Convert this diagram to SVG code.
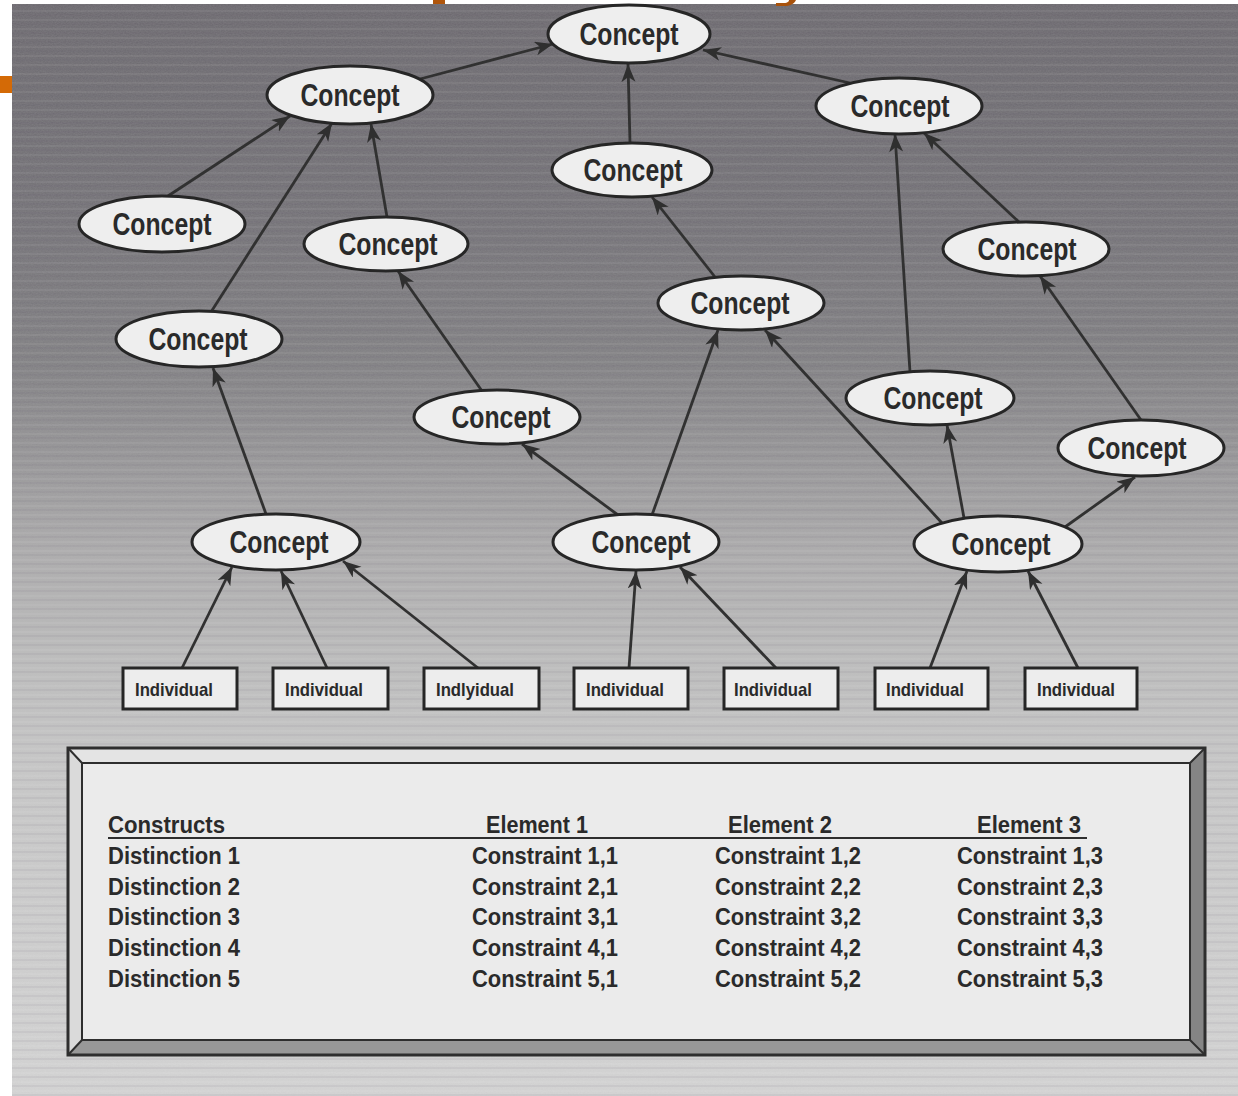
<svg xmlns="http://www.w3.org/2000/svg" width="1238" height="1096" viewBox="0 0 1238 1096">
  <defs>
    <linearGradient id="paper" x1="0" y1="0" x2="0" y2="1">
      <stop offset="0" stop-color="#6b686e"/>
      <stop offset="0.2" stop-color="#737176"/>
      <stop offset="0.33" stop-color="#807f82"/>
      <stop offset="0.42" stop-color="#979698"/>
      <stop offset="0.5" stop-color="#acabac"/>
      <stop offset="0.6" stop-color="#bdbdbd"/>
      <stop offset="0.7" stop-color="#c8c8c8"/>
      <stop offset="1" stop-color="#d5d5d5"/>
    </linearGradient>
    <pattern id="scanlines" width="40" height="9" patternUnits="userSpaceOnUse">
      <rect x="0" y="1" width="40" height="2" fill="#ffffff" opacity="0.06"/>
      <rect x="0" y="5" width="40" height="2" fill="#5a4a66" opacity="0.08"/>
    </pattern>
    <filter id="grain" x="0" y="0" width="100%" height="100%">
      <feTurbulence type="fractalNoise" baseFrequency="0.6 0.9" numOctaves="2" seed="3"/>
      <feColorMatrix type="matrix" values="0 0 0 0 0.5  0 0 0 0 0.5  0 0 0 0 0.5  0 0 0 0.2 0"/>
    </filter>
    <marker id="arrow" markerUnits="userSpaceOnUse" markerWidth="20" markerHeight="16" refX="18" refY="7" orient="auto">
      <path d="M0,0 L18,7 L0,14 L5,7 z" fill="#2f2f2f"/>
    </marker>
    <style>
      .node ellipse { fill: #eeeeee; stroke: #262626; stroke-width: 3; }
      .node rect { fill: #ededed; stroke: #262626; stroke-width: 3; }
      .clabel { font-family: "Liberation Sans", Arial, sans-serif; font-weight: bold; font-size: 31px; fill: #2a2a2a; text-anchor: middle; }
      .ilabel { font-family: "Liberation Sans", Arial, sans-serif; font-weight: bold; font-size: 19px; fill: #2a2a2a; text-anchor: middle; }
      .edges line { stroke: #313131; stroke-width: 2.8; marker-end: url(#arrow); }
      .tbl { font-family: "Liberation Sans", Arial, sans-serif; font-weight: bold; font-size: 23px; fill: #2a2a2a; }
    </style>
  </defs>

  <!-- page margin and scanned sheet -->
  <rect x="0" y="0" width="1238" height="1096" fill="#ffffff"/>
  <rect x="12" y="4" width="1226" height="1092" fill="url(#paper)"/>
  <rect x="12" y="4" width="1226" height="1092" fill="url(#scanlines)"/>
  <rect x="12" y="4" width="1226" height="1092" filter="url(#grain)"/>

  <!-- orange bits of the slide header -->
  <rect x="0" y="76" width="12" height="17" fill="#d46a06"/>
  <rect x="433" y="0" width="12" height="4" fill="#b0560c"/>
  <path d="M772,0 L796,0 C794,4 790,6 784,6 L776,6 L776,3 L784,3 C788,3 789,1 789,0 Z" fill="#a8520c"/>

  <!-- connectors -->
  <g id="connectors" class="edges">
    <line x1="420" y1="79" x2="553" y2="44"/>
    <line x1="850" y1="83" x2="703" y2="50"/>
    <line x1="630" y1="143" x2="628" y2="64"/>
    <line x1="168" y1="196" x2="290" y2="116"/>
    <line x1="211" y1="312" x2="332" y2="123"/>
    <line x1="387" y1="217" x2="371" y2="124"/>
    <line x1="482" y1="391" x2="398" y2="271"/>
    <line x1="266" y1="514" x2="213" y2="368"/>
    <line x1="618" y1="515" x2="522" y2="444"/>
    <line x1="652" y1="515" x2="718" y2="330"/>
    <line x1="715" y1="277" x2="652" y2="197"/>
    <line x1="942" y1="523" x2="765" y2="330"/>
    <line x1="964" y1="518" x2="947" y2="425"/>
    <line x1="1065" y1="527" x2="1135" y2="477"/>
    <line x1="910" y1="372" x2="895" y2="134"/>
    <line x1="1141" y1="420" x2="1040" y2="276"/>
    <line x1="1019" y1="222" x2="924" y2="133"/>
    <line x1="182" y1="668" x2="232" y2="567"/>
    <line x1="327" y1="668" x2="281" y2="571"/>
    <line x1="478" y1="668" x2="343" y2="561"/>
    <line x1="629" y1="668" x2="636" y2="571"/>
    <line x1="776" y1="668" x2="680" y2="567"/>
    <line x1="930" y1="668" x2="967" y2="571"/>
    <line x1="1078" y1="668" x2="1028" y2="571"/>
  </g>

  <!-- concept nodes -->
  <g id="concept-1" class="node"><ellipse cx="629" cy="34" rx="81" ry="29"/><text class="clabel" x="629" y="45" textLength="99" lengthAdjust="spacingAndGlyphs">Concept</text></g>
  <g id="concept-2" class="node"><ellipse cx="350" cy="95" rx="83" ry="29"/><text class="clabel" x="350" y="106" textLength="99" lengthAdjust="spacingAndGlyphs">Concept</text></g>
  <g id="concept-3" class="node"><ellipse cx="899" cy="106" rx="83" ry="28"/><text class="clabel" x="900" y="117" textLength="99" lengthAdjust="spacingAndGlyphs">Concept</text></g>
  <g id="concept-4" class="node"><ellipse cx="162" cy="224" rx="83" ry="28"/><text class="clabel" x="162" y="235" textLength="99" lengthAdjust="spacingAndGlyphs">Concept</text></g>
  <g id="concept-5" class="node"><ellipse cx="386" cy="244" rx="82" ry="27"/><text class="clabel" x="388" y="255" textLength="99" lengthAdjust="spacingAndGlyphs">Concept</text></g>
  <g id="concept-6" class="node"><ellipse cx="632" cy="170" rx="80" ry="27"/><text class="clabel" x="633" y="181" textLength="99" lengthAdjust="spacingAndGlyphs">Concept</text></g>
  <g id="concept-7" class="node"><ellipse cx="741" cy="303" rx="83" ry="27"/><text class="clabel" x="740" y="314" textLength="99" lengthAdjust="spacingAndGlyphs">Concept</text></g>
  <g id="concept-8" class="node"><ellipse cx="1026" cy="249" rx="83" ry="27"/><text class="clabel" x="1027" y="260" textLength="99" lengthAdjust="spacingAndGlyphs">Concept</text></g>
  <g id="concept-9" class="node"><ellipse cx="199" cy="339" rx="83" ry="28"/><text class="clabel" x="198" y="350" textLength="99" lengthAdjust="spacingAndGlyphs">Concept</text></g>
  <g id="concept-10" class="node"><ellipse cx="497" cy="417" rx="83" ry="27"/><text class="clabel" x="501" y="428" textLength="99" lengthAdjust="spacingAndGlyphs">Concept</text></g>
  <g id="concept-11" class="node"><ellipse cx="930" cy="398" rx="84" ry="27"/><text class="clabel" x="933" y="409" textLength="99" lengthAdjust="spacingAndGlyphs">Concept</text></g>
  <g id="concept-12" class="node"><ellipse cx="1141" cy="448" rx="83" ry="28"/><text class="clabel" x="1137" y="459" textLength="99" lengthAdjust="spacingAndGlyphs">Concept</text></g>
  <g id="concept-13" class="node"><ellipse cx="276" cy="542" rx="84" ry="28"/><text class="clabel" x="279" y="553" textLength="99" lengthAdjust="spacingAndGlyphs">Concept</text></g>
  <g id="concept-14" class="node"><ellipse cx="636" cy="542" rx="83" ry="28"/><text class="clabel" x="641" y="553" textLength="99" lengthAdjust="spacingAndGlyphs">Concept</text></g>
  <g id="concept-15" class="node"><ellipse cx="998" cy="544" rx="84" ry="28"/><text class="clabel" x="1001" y="555" textLength="99" lengthAdjust="spacingAndGlyphs">Concept</text></g>

  <!-- individual nodes -->
  <g id="individual-1" class="node"><rect x="123" y="668" width="114" height="41"/><text class="ilabel" x="174" y="696" textLength="78" lengthAdjust="spacingAndGlyphs">Individual</text></g>
  <g id="individual-2" class="node"><rect x="273" y="668" width="115" height="41"/><text class="ilabel" x="324" y="696" textLength="78" lengthAdjust="spacingAndGlyphs">Individual</text></g>
  <g id="individual-3" class="node"><rect x="424" y="668" width="115" height="41"/><text class="ilabel" x="475" y="696" textLength="78" lengthAdjust="spacingAndGlyphs">Indlyidual</text></g>
  <g id="individual-4" class="node"><rect x="574" y="668" width="114" height="41"/><text class="ilabel" x="625" y="696" textLength="78" lengthAdjust="spacingAndGlyphs">Individual</text></g>
  <g id="individual-5" class="node"><rect x="724" y="668" width="114" height="41"/><text class="ilabel" x="773" y="696" textLength="78" lengthAdjust="spacingAndGlyphs">Individual</text></g>
  <g id="individual-6" class="node"><rect x="875" y="668" width="113" height="41"/><text class="ilabel" x="925" y="696" textLength="78" lengthAdjust="spacingAndGlyphs">Individual</text></g>
  <g id="individual-7" class="node"><rect x="1025" y="668" width="112" height="41"/><text class="ilabel" x="1076" y="696" textLength="78" lengthAdjust="spacingAndGlyphs">Individual</text></g>

  <!-- repertory grid panel with bevelled frame -->
  <g id="grid-table">
    <polygon points="68,748 1205,748 1190,763 82,763" fill="#e4e4e4"/>
    <polygon points="68,748 82,763 82,1040 68,1055" fill="#dadada"/>
    <polygon points="1205,748 1205,1055 1190,1040 1190,763" fill="#858585"/>
    <polygon points="68,1055 1205,1055 1190,1040 82,1040" fill="#989898"/>
    <rect x="82" y="763" width="1108" height="277" fill="#ebebeb" stroke="#2e2e2e" stroke-width="2"/>
    <rect x="68" y="748" width="1137" height="307" fill="none" stroke="#2e2e2e" stroke-width="3"/>
    <g stroke="#2e2e2e" stroke-width="2">
      <line x1="68" y1="748" x2="82" y2="763"/>
      <line x1="1205" y1="748" x2="1190" y2="763"/>
      <line x1="68" y1="1055" x2="82" y2="1040"/>
      <line x1="1205" y1="1055" x2="1190" y2="1040"/>
    </g>
    <line x1="108" y1="838" x2="1087" y2="838" stroke="#2e2e2e" stroke-width="2"/>
    <g class="tbl">
      <text x="108" y="833" textLength="117" lengthAdjust="spacingAndGlyphs">Constructs</text>
      <text x="486" y="833" textLength="102" lengthAdjust="spacingAndGlyphs">Element 1</text>
      <text x="728" y="833" textLength="104" lengthAdjust="spacingAndGlyphs">Element 2</text>
      <text x="977" y="833" textLength="104" lengthAdjust="spacingAndGlyphs">Element 3</text>

      <text x="108" y="864" textLength="132" lengthAdjust="spacingAndGlyphs">Distinction 1</text>
      <text x="108" y="895" textLength="132" lengthAdjust="spacingAndGlyphs">Distinction 2</text>
      <text x="108" y="925" textLength="132" lengthAdjust="spacingAndGlyphs">Distinction 3</text>
      <text x="108" y="956" textLength="132" lengthAdjust="spacingAndGlyphs">Distinction 4</text>
      <text x="108" y="987" textLength="132" lengthAdjust="spacingAndGlyphs">Distinction 5</text>

      <text x="472" y="864" textLength="146" lengthAdjust="spacingAndGlyphs">Constraint 1,1</text>
      <text x="472" y="895" textLength="146" lengthAdjust="spacingAndGlyphs">Constraint 2,1</text>
      <text x="472" y="925" textLength="146" lengthAdjust="spacingAndGlyphs">Constraint 3,1</text>
      <text x="472" y="956" textLength="146" lengthAdjust="spacingAndGlyphs">Constraint 4,1</text>
      <text x="472" y="987" textLength="146" lengthAdjust="spacingAndGlyphs">Constraint 5,1</text>

      <text x="715" y="864" textLength="146" lengthAdjust="spacingAndGlyphs">Constraint 1,2</text>
      <text x="715" y="895" textLength="146" lengthAdjust="spacingAndGlyphs">Constraint 2,2</text>
      <text x="715" y="925" textLength="146" lengthAdjust="spacingAndGlyphs">Constraint 3,2</text>
      <text x="715" y="956" textLength="146" lengthAdjust="spacingAndGlyphs">Constraint 4,2</text>
      <text x="715" y="987" textLength="146" lengthAdjust="spacingAndGlyphs">Constraint 5,2</text>

      <text x="957" y="864" textLength="146" lengthAdjust="spacingAndGlyphs">Constraint 1,3</text>
      <text x="957" y="895" textLength="146" lengthAdjust="spacingAndGlyphs">Constraint 2,3</text>
      <text x="957" y="925" textLength="146" lengthAdjust="spacingAndGlyphs">Constraint 3,3</text>
      <text x="957" y="956" textLength="146" lengthAdjust="spacingAndGlyphs">Constraint 4,3</text>
      <text x="957" y="987" textLength="146" lengthAdjust="spacingAndGlyphs">Constraint 5,3</text>
    </g>
  </g>
</svg>
